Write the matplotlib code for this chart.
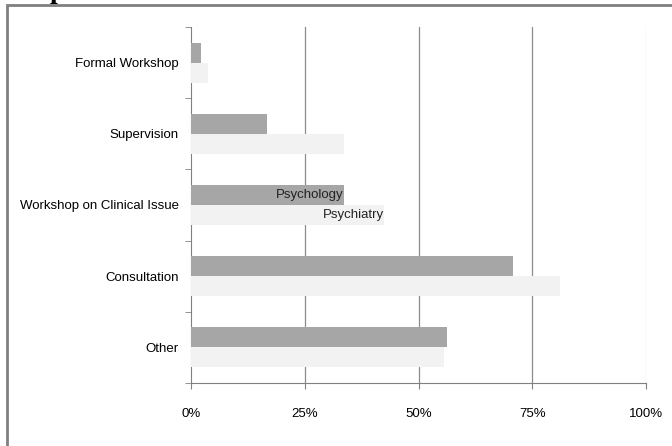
import matplotlib
matplotlib.use("Agg")
import matplotlib.pyplot as plt
import numpy as np
from matplotlib.patches import Rectangle

plt.rcParams['font.family'] = ['Liberation Sans', 'DejaVu Sans']

categories = ["Formal Workshop", "Supervision", "Workshop on Clinical Issue",
              "Consultation", "Other"]
psychology = [2.3, 16.7, 33.6, 70.8, 56.3]
psychiatry = [3.8, 33.6, 42.4, 81.1, 55.6]
xticks = [0, 25, 50, 75, 100]
xticklabels = ["0%", "25%", "50%", "75%", "100%"]

fig = plt.figure(figsize=(6.72, 4.46), dpi=100)
ax = fig.add_axes([191 / 672, 1 - 383 / 446, 455 / 672, 356 / 446])

# categories drawn top to bottom
pos = np.arange(len(categories))[::-1]
h = 0.28
ax.barh(pos + h / 2, psychology, height=h, color="#a6a6a6", zorder=3)
ax.barh(pos - h / 2, psychiatry, height=h, color="#f2f2f2", zorder=3)

# series names written inside the Workshop on Clinical Issue bars
i = 2
ax.text(psychology[i], pos[i] + h / 2, "Psychology", ha="right", va="center",
        fontsize=9.5, color="#222222", zorder=4)
ax.text(psychiatry[i], pos[i] - h / 2, "Psychiatry", ha="right", va="center",
        fontsize=9.5, color="#222222", zorder=4)

ax.set_xlim(0, 100)
ax.set_ylim(-0.5, len(categories) - 0.5)
ax.set_xticks(xticks)
ax.set_xticklabels(xticklabels, fontsize=9.5)
ax.set_yticks(pos)
ax.set_yticklabels(categories, fontsize=9.5)
ax.set_yticks(np.arange(len(categories) + 1) - 0.5, minor=True)
ax.tick_params(axis="y", which="major", length=0, pad=9)
ax.tick_params(axis="y", which="minor", length=4, color="#808080", direction="out")
ax.tick_params(axis="x", length=4, color="#808080", pad=14)

for x in xticks[1:]:
    ax.axvline(x, color="#8c8c8c" if x < 100 else "#d0d0d0", lw=0.9, zorder=1)

for s in ["top", "right"]:
    ax.spines[s].set_visible(False)
ax.spines["left"].set_color("#808080")
ax.spines["bottom"].set_color("#808080")

# frame round the picture and the cut-off title above it
fig.patches.append(Rectangle((7 / 672, -0.1), 1.2, 1 - 4.5 / 446 + 0.1,
                             transform=fig.transFigure, fill=False,
                             ec="#808080", lw=2))
fig.text(50 / 672, 1 + 2 / 446, "p", family="Liberation Serif",
         fontweight="bold", fontsize=20, va="baseline")

fig.savefig("out.png", dpi=100)
